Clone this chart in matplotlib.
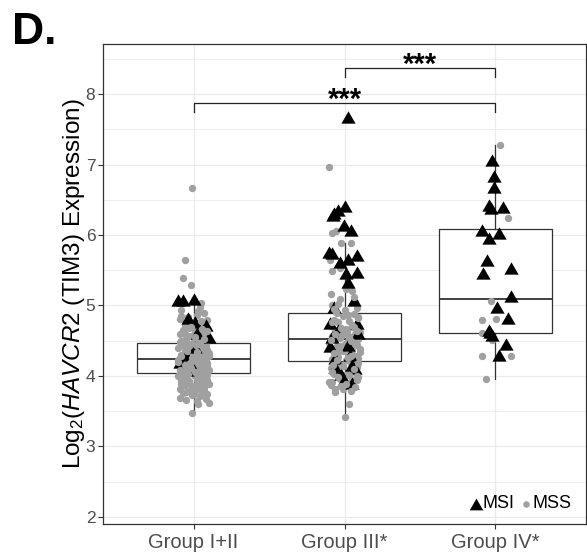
import matplotlib
matplotlib.use("Agg")
import matplotlib.pyplot as plt
from matplotlib.ticker import MultipleLocator, FixedLocator

plt.rcParams['font.family'] = ['Liberation Sans', 'DejaVu Sans']
plt.rcParams['mathtext.fontset'] = 'custom'
plt.rcParams['mathtext.rm'] = 'Liberation Sans'
plt.rcParams['mathtext.it'] = 'Liberation Sans:italic'

# ---------------------------------------------------------------- data
groups = ["Group I+II", "Group III*", "Group IV*"]

# box summaries: lower whisker, Q1, median, Q3, upper whisker
whis_lo = [3.47, 3.42, 3.96]
q1 = [4.04, 4.21, 4.61]
median = [4.24, 4.53, 5.09]
q3 = [4.47, 4.90, 6.09]
whis_hi = [5.12, 5.89, 7.27]

# Group I+II
g1_mss = [6.67, 5.64, 5.39, 5.29, 5.03, 4.98, 4.94, 4.89, 4.87, 4.84,
          4.81, 4.79, 4.76, 4.74, 4.72, 4.71, 4.68, 4.66, 4.65, 4.62,
          4.61, 4.59, 4.57, 4.56, 4.54, 4.53, 4.51, 4.50, 4.49, 4.47,
          4.46, 4.45, 4.44, 4.42, 4.41, 4.40, 4.38, 4.37, 4.36, 4.35,
          4.33, 4.32, 4.31, 4.30, 4.29, 4.28, 4.27, 4.26, 4.25, 4.24,
          4.24, 4.23, 4.22, 4.21, 4.20, 4.19, 4.18, 4.17, 4.17, 4.16,
          4.15, 4.14, 4.13, 4.12, 4.11, 4.10, 4.09, 4.08, 4.07, 4.06,
          4.05, 4.04, 4.03, 4.02, 4.01, 4.00, 3.99, 3.97, 3.96, 3.95,
          3.93, 3.92, 3.90, 3.89, 3.87, 3.86, 3.84, 3.82, 3.81, 3.79,
          3.78, 3.76, 3.75, 3.73, 3.71, 3.69, 3.68, 3.66, 3.65, 3.62,
          3.60, 3.47]
g1_mss_jit = [-0.01, -0.06, -0.07, -0.02, 0.05, 0.04, -0.08, 0.07, 0.02, -0.04,
              -0.09, 0.09, 0.00, 0.06, -0.06, 0.03, -0.03, 0.08, -0.07, 0.01,
              0.05, -0.09, -0.02, 0.09, 0.03, -0.05, 0.07, -0.08, 0.00, 0.04,
              -0.03, 0.08, -0.07, 0.02, 0.06, -0.10, -0.01, 0.09, 0.04, -0.06,
              0.07, -0.04, 0.01, -0.08, 0.05, 0.10, -0.02, -0.09, 0.03, 0.08,
              -0.05, 0.02, -0.10, 0.06, -0.03, 0.09, 0.00, -0.07, 0.04, -0.01,
              0.08, -0.06, 0.05, -0.09, 0.01, 0.07, -0.04, 0.10, -0.08, 0.03,
              -0.02, 0.06, -0.07, 0.09, 0.00, -0.10, 0.04, -0.05, 0.08, 0.02,
              -0.08, 0.05, -0.03, 0.10, -0.06, 0.01, 0.07, -0.09, 0.03, -0.04,
              0.06, -0.07, 0.09, -0.01, 0.04, -0.09, 0.08, -0.05, 0.02, 0.10,
              0.03, -0.01]
g1_mss_b = [4.92, 4.85, 4.78, 4.70, 4.64, 4.60, 4.55, 4.52, 4.48, 4.46,
            4.43, 4.40, 4.38, 4.34, 4.32, 4.29, 4.27, 4.25, 4.22, 4.20,
            4.18, 4.16, 4.14, 4.12, 4.10, 4.08, 4.06, 4.05, 4.03, 4.01,
            3.99, 3.97, 3.95, 3.93, 3.91, 3.88, 3.85, 3.83, 3.80, 3.77,
            4.35, 4.26, 4.19, 4.11, 4.02, 3.94, 4.44, 4.57, 4.67, 3.74]
g1_mss_b_jit = [0.03, -0.08, 0.05, -0.02, 0.09, -0.06, 0.01, 0.07, -0.09, 0.04,
                -0.03, 0.08, -0.05, 0.02, 0.10, -0.08, 0.05, -0.01, 0.07, -0.10,
                0.03, -0.06, 0.09, -0.02, 0.06, -0.09, 0.01, 0.08, -0.04, 0.05,
                -0.07, 0.02, 0.09, -0.03, 0.06, -0.08, 0.04, -0.01, 0.07, -0.05,
                -0.045, 0.035, -0.025, 0.045, -0.055, 0.065, 0.015, -0.035, 0.055, 0.00]
g1_msi = [5.08, 5.08, 5.09, 4.82, 4.77, 4.72, 4.56, 4.61, 4.41, 4.30, 4.20, 4.09]
g1_msi_jit = [-0.10, -0.07, 0.00, -0.04, 0.01, 0.08, 0.10, 0.02, 0.01, -0.05, -0.09, 0.00]

# Group III*
g3_mss = [6.97, 6.06, 6.03, 5.89, 5.88, 5.65, 5.53, 5.49, 5.23, 5.20,
          5.16, 5.09, 5.05, 5.00, 4.96, 4.93, 4.90, 4.88, 4.85, 4.83,
          4.80, 4.78, 4.76, 4.73, 4.71, 4.69, 4.67, 4.65, 4.63, 4.61,
          4.59, 4.57, 4.56, 4.54, 4.53, 4.52, 4.50, 4.48, 4.47, 4.45,
          4.44, 4.42, 4.40, 4.39, 4.37, 4.35, 4.34, 4.32, 4.30, 4.29,
          4.27, 4.25, 4.24, 4.22, 4.20, 4.18, 4.17, 4.15, 4.13, 4.11,
          4.09, 4.07, 4.05, 4.03, 4.01, 3.99, 3.96, 3.94, 3.91, 3.89,
          3.87, 3.84, 3.82, 3.80, 3.77, 3.60, 3.42]
g3_mss_jit = [-0.105, -0.055, -0.08, 0.04, -0.02, -0.095, -0.03, -0.085, 0.01, 0.05,
              -0.09, -0.03, 0.07, -0.08, 0.08, 0.00, -0.05, 0.06, -0.01, 0.09,
              -0.07, 0.03, -0.04, 0.08, -0.09, 0.05, 0.01, -0.06, 0.10, -0.02,
              0.07, -0.08, 0.04, -0.03, 0.09, -0.06, 0.02, 0.06, -0.10, 0.00,
              0.08, -0.05, 0.03, -0.09, 0.05, -0.01, 0.10, -0.07, 0.02, 0.07,
              -0.04, 0.09, -0.08, 0.01, 0.06, -0.06, 0.04, -0.02, 0.08, -0.09,
              0.03, -0.05, 0.07, -0.07, 0.00, 0.09, -0.03, 0.05, -0.08, 0.02,
              -0.09, 0.06, -0.01, 0.04, -0.06, 0.03, 0.00]
g3_mss_b = [5.12, 5.02, 4.95, 4.87, 4.82, 4.77, 4.72, 4.68, 4.64, 4.60,
            4.55, 4.51, 4.46, 4.43, 4.38, 4.33, 4.28, 4.23, 4.19, 4.14,
            4.10, 4.06, 4.02, 3.98, 3.95, 3.92, 3.88, 3.85, 3.81, 3.78,
            4.58, 4.49, 4.36, 4.26, 4.16, 4.70, 4.91, 4.00, 3.86, 4.62]
g3_mss_b_jit = [0.06, -0.04, -0.07, 0.02, 0.09, -0.08, 0.05, -0.02, 0.08, -0.06,
                0.03, -0.09, 0.07, -0.03, 0.10, -0.07, 0.04, -0.05, 0.09, -0.01,
                0.06, -0.08, 0.03, -0.04, 0.08, -0.10, 0.01, 0.07, -0.06, 0.04,
                -0.015, 0.045, -0.035, 0.025, -0.075, 0.065, -0.055, 0.085, -0.025, 0.015]
g3_msi = [7.68, 6.41, 6.35, 6.31, 6.28, 6.14, 6.07, 5.76, 5.74, 5.72,
          5.66, 5.62, 5.47, 5.46, 5.34, 5.08, 4.98, 4.75, 4.75, 4.65,
          4.61, 4.56, 4.44, 4.42, 4.30, 4.25, 4.16, 4.13, 4.11, 4.03,
          3.94, 3.90]
g3_msi_jit = [0.025, 0.00, -0.04, -0.07, -0.075, -0.005, 0.04, -0.10, -0.085, 0.08,
              0.025, -0.03, 0.085, 0.01, 0.025, 0.06, -0.07, -0.095, 0.08, -0.04,
              0.09, -0.085, 0.025, -0.095, 0.035, -0.06, 0.05, -0.06, 0.07, -0.02,
              -0.005, 0.05]

# Group IV*
g4_mss = [7.27, 6.24, 5.06, 4.81, 4.79, 4.61, 4.51, 4.28, 4.28, 3.96]
g4_mss_jit = [0.03, 0.085, -0.03, 0.005, -0.09, -0.09, -0.02, -0.09, 0.10, -0.065]
g4_mss_b = []
g4_mss_b_jit = []
g4_msi = [7.06, 6.84, 6.68, 6.43, 6.38, 6.40, 6.07, 5.96, 6.03, 5.65,
          5.53, 5.46, 5.13, 4.98, 4.82, 4.65, 4.58, 4.62, 4.45, 4.30]
g4_msi_jit = [-0.02, -0.01, -0.01, -0.045, -0.03, 0.05, -0.09, -0.04, 0.025, -0.055,
              0.10, -0.085, 0.10, 0.01, 0.085, -0.045, -0.02, -0.035, 0.07, 0.025]

# pairwise comparisons: (group a, group b, bracket height, label)
comparisons = [(1, 3, 7.87, "***"), (2, 3, 8.37, "***")]

# ---------------------------------------------------------------- figure
fig = plt.figure(figsize=(5.87, 5.59), dpi=100)
ax = fig.add_axes([103 / 587, 35 / 559, 483 / 587, 480 / 559])

ax.set_xlim(0.4, 3.6)
ax.set_ylim(1.9, 8.71)

grid_col = "#EBEBEB"
ax.yaxis.set_major_locator(MultipleLocator(1))
ax.yaxis.set_minor_locator(MultipleLocator(0.5))
ax.xaxis.set_major_locator(FixedLocator([1, 2, 3]))
ax.grid(which="major", color=grid_col, linewidth=0.9, zorder=0)
ax.grid(which="minor", axis="y", color=grid_col, linewidth=0.6, zorder=0)
ax.set_axisbelow(True)

# boxes
stats = []
for i, g in enumerate(groups):
    stats.append(dict(label=g, whislo=whis_lo[i], q1=q1[i], med=median[i],
                      q3=q3[i], whishi=whis_hi[i], fliers=[]))
edge = "#333333"
ax.bxp(stats, positions=[1, 2, 3], widths=0.75, showcaps=False,
       showfliers=False, patch_artist=True,
       boxprops=dict(facecolor="white", edgecolor=edge, linewidth=0.9),
       medianprops=dict(color=edge, linewidth=1.3),
       whiskerprops=dict(color=edge, linewidth=0.9),
       zorder=2)

# jittered points: first MSS batch, MSI triangles, second MSS batch
tri = [(-1.0, -0.866), (1.0, -0.866), (0.0, 0.866)]
mss_col = "#A0A0A0"
s_mss, s_msi = 28, 105
for pos, mss, mss_j, msi, msi_j, mss2, mss2_j in [
        (1, g1_mss, g1_mss_jit, g1_msi, g1_msi_jit, g1_mss_b, g1_mss_b_jit),
        (2, g3_mss, g3_mss_jit, g3_msi, g3_msi_jit, g3_mss_b, g3_mss_b_jit),
        (3, g4_mss, g4_mss_jit, g4_msi, g4_msi_jit, g4_mss_b, g4_mss_b_jit)]:
    ax.scatter([pos + j for j in mss_j], mss, s=s_mss, color=mss_col,
               linewidths=0, zorder=3)
    ax.scatter([pos + j for j in msi_j], msi, s=s_msi, marker=tri,
               color="black", linewidths=0, zorder=4)
    if mss2:
        ax.scatter([pos + j for j in mss2_j], mss2, s=s_mss, color=mss_col,
                   linewidths=0, zorder=4.5)

# significance brackets
for a, b, h, lab in comparisons:
    ax.plot([a, a, b, b], [h - 0.13, h, h, h - 0.13], color="#222222",
            linewidth=0.9, zorder=5)
    ax.text((a + b) / 2, h - 0.07, lab, ha="center", va="baseline",
            fontsize=21, fontweight="bold", color="black", zorder=5)

# axes styling
for sp in ax.spines.values():
    sp.set_color("#333333")
    sp.set_linewidth(0.9)
ax.tick_params(axis="both", which="major", length=3.5, width=0.8,
               color="#333333", labelcolor="#4D4D4D")
ax.tick_params(axis="y", which="minor", length=0)
ax.tick_params(axis="y", labelsize=12.5, pad=2)
ax.tick_params(axis="x", labelsize=14.5, pad=3)
ax.set_xticks([1, 2, 3])
ax.set_xticklabels(groups)
ax.set_ylabel(r"Log$_2$($\mathit{HAVCR2}$ (TIM3) Expression)",
              fontsize=17.5, color="black", labelpad=-1)

# legend
h_msi = ax.scatter([], [], s=95, marker=tri, color="black", linewidths=0)
h_mss = ax.scatter([], [], s=22, color=mss_col, linewidths=0)
ax.legend([h_msi, h_mss], ["MSI", "MSS"], loc="lower right",
          bbox_to_anchor=(0.995, 0.0), ncol=2, frameon=False, fontsize=13,
          handletextpad=-0.1, columnspacing=0.1, handlelength=1.0,
          borderaxespad=0.25)

fig.text(0.021, 1 - 44.3 / 559, "D.", fontsize=32, fontweight="bold",
         va="baseline", ha="left")

fig.savefig("out.png", dpi=100)
